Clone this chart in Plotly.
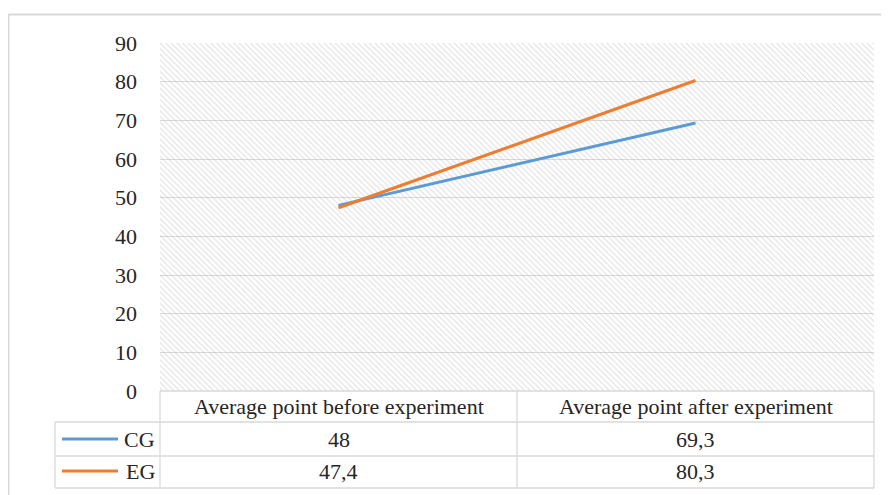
import plotly.graph_objects as go

categories = ["Average point before experiment", "Average point after experiment"]
series_names = ["CG", "EG"]
cg_values = [48, 69.3]
eg_values = [47.4, 80.3]
y_ticks = [0, 10, 20, 30, 40, 50, 60, 70, 80, 90]

colors = {"CG": "#5B9BD5", "EG": "#ED7D31"}
series = {"CG": cg_values, "EG": eg_values}

OFF = 8  # default page body margin
W, H = 889 - OFF, 495 - OFF
PL, PR, PT, PB = 160, 874, 43, 391   # plot area in page pixels
L, T = PL - OFF, PT - OFF
R = OFF + W - PR
B = OFF + H - PB
PW, PH = PR - PL, PB - PT
FONT = "'Liberation Serif', serif"
TXT = "#262626"
GRID = "#d9d9d9"


def px(x):
    return (x - PL) / PW


def py(y):
    return (PB - y) / PH


def fmt(v):
    return ("%g" % v).replace(".", ",")


fig = go.Figure()

# hatched plot-area background
fig.add_trace(go.Bar(
    x=categories, y=[max(y_ticks)] * len(categories), width=1,
    marker=dict(color="rgba(0,0,0,0)", line=dict(width=0),
                pattern=dict(shape="\\", fgcolor="#bababa", bgcolor="rgba(0,0,0,0)",
                             size=4, solidity=0.25)),
    hoverinfo="skip", showlegend=False))

for name in series_names:
    fig.add_trace(go.Scatter(
        x=categories, y=series[name], mode="lines", name=name,
        line=dict(color=colors[name], width=3), showlegend=False))

shapes = []
# outer border
shapes.append(dict(type="rect", xref="paper", yref="paper",
                   x0=px(8.5), x1=px(900), y0=py(14.5), y1=py(510),
                   line=dict(color="#d9d9d9", width=2)))

# table lines
row_y = [391, 422, 456, 488]
col_x = [55, 160, 517, 874]
line_style = dict(color=GRID, width=1.3)
shapes.append(dict(type="line", xref="paper", yref="paper",
                   x0=px(160), x1=px(874), y0=py(391), y1=py(391), line=line_style))
for yy in row_y[1:]:
    shapes.append(dict(type="line", xref="paper", yref="paper",
                       x0=px(55), x1=px(874), y0=py(yy), y1=py(yy), line=line_style))
shapes.append(dict(type="line", xref="paper", yref="paper",
                   x0=px(55), x1=px(55), y0=py(422), y1=py(488), line=line_style))
for xx in col_x[1:]:
    shapes.append(dict(type="line", xref="paper", yref="paper",
                       x0=px(xx), x1=px(xx), y0=py(391), y1=py(488), line=line_style))

annotations = []
centers = [(col_x[1] + col_x[2]) / 2, (col_x[2] + col_x[3]) / 2]
for c, cat in zip(centers, categories):
    annotations.append(dict(xref="paper", yref="paper", x=px(c), y=py(406),
                            text=cat, showarrow=False, xanchor="center", yanchor="middle",
                            font=dict(family=FONT, size=22, color=TXT)))

row_centers = [439, 471]
for rc, name in zip(row_centers, series_names):
    shapes.append(dict(type="line", xref="paper", yref="paper",
                       x0=px(62), x1=px(118), y0=py(rc), y1=py(rc),
                       line=dict(color=colors[name], width=3)))
    annotations.append(dict(xref="paper", yref="paper", x=px(157), y=py(rc),
                            text=name, showarrow=False, xanchor="right", yanchor="middle",
                            font=dict(family=FONT, size=22, color=TXT)))
    for c, v in zip(centers, series[name]):
        annotations.append(dict(xref="paper", yref="paper", x=px(c), y=py(rc),
                                text=fmt(v), showarrow=False, xanchor="center", yanchor="middle",
                                font=dict(family=FONT, size=22, color=TXT)))

fig.update_layout(
    width=W, height=H,
    margin=dict(l=L, r=R, t=T, b=B, pad=0),
    paper_bgcolor="white", plot_bgcolor="white",
    barmode="overlay",
    shapes=shapes, annotations=annotations,
    xaxis=dict(type="category", categoryorder="array", categoryarray=categories,
               range=[-0.5, len(categories) - 0.5], showticklabels=False,
               showgrid=False, zeroline=False, showline=False, fixedrange=True),
    yaxis=dict(range=[0, 90], tickvals=y_ticks, showgrid=True, gridcolor=GRID,
               gridwidth=1, zeroline=False, showline=False,
               tickfont=dict(family=FONT, size=22, color=TXT),
               ticklabelstandoff=22, fixedrange=True),
    showlegend=False,
)

fig.write_html("out.html")
